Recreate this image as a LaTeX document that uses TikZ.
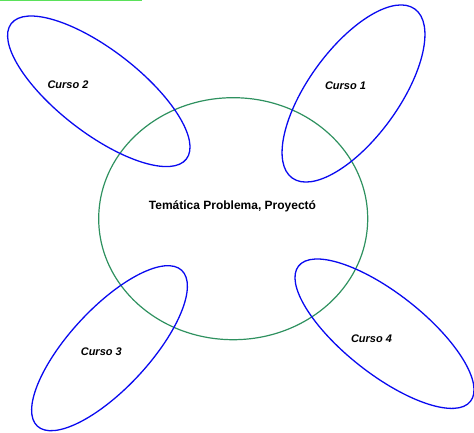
\documentclass[tikz,border=0pt]{standalone}
\usepackage{fontspec}
\setmainfont{Liberation Sans}
\definecolor{temagreen}{RGB}{46,145,95}
\definecolor{cursoblue}{RGB}{10,10,240}
\definecolor{boxgreen}{RGB}{90,225,90}
\tikzset{
    cursoline/.style={cursoblue, line width=1.3pt},
    temaline/.style={temagreen, line width=1.2pt},
    cursolabel/.style={font=\fontsize{11}{13}\selectfont\bfseries\itshape},
    temalabel/.style={font=\fontsize{12}{14}\selectfont\bfseries}
}
\begin{document}
\begin{tikzpicture}[x=1pt, y=1pt]
    \useasboundingbox (0,0) rectangle (474,432);
    \draw[boxgreen, line width=1pt] (0,431.6) -- (141,431.6) -- (141,432);
    % central theme
    \draw[temaline] (233.2,213.3) ellipse [x radius=134.5, y radius=121];
    % courses
    \draw[cursoline, rotate around={54:(353.5,338.5)}] (353.5,338.5) ellipse [x radius=104.4, y radius=45.2];
    \draw[cursoline, rotate around={-37.7:(98.8,340.7)}] (98.8,340.7) ellipse [x radius=110.7, y radius=41.6];
    \draw[cursoline, rotate around={47.2:(109.5,83.8)}] (109.5,83.8) ellipse [x radius=106.2, y radius=39.9];
    \draw[cursoline, rotate around={-38.2:(384.5,98.3)}] (384.5,98.3) ellipse [x radius=109.4, y radius=40.3];
    \node[temalabel] (tema) at (232.5,226) {Temática Problema, Proyectó};
    \node[cursolabel] (curso1) at (345.5,346.5) {Curso 1};
    \node[cursolabel] (curso2) at (68,347) {Curso 2};
    \node[cursolabel] (curso3) at (101.3,80.5) {Curso 3};
    \node[cursolabel] (curso4) at (371.5,93) {Curso 4};
\end{tikzpicture}
\end{document}
